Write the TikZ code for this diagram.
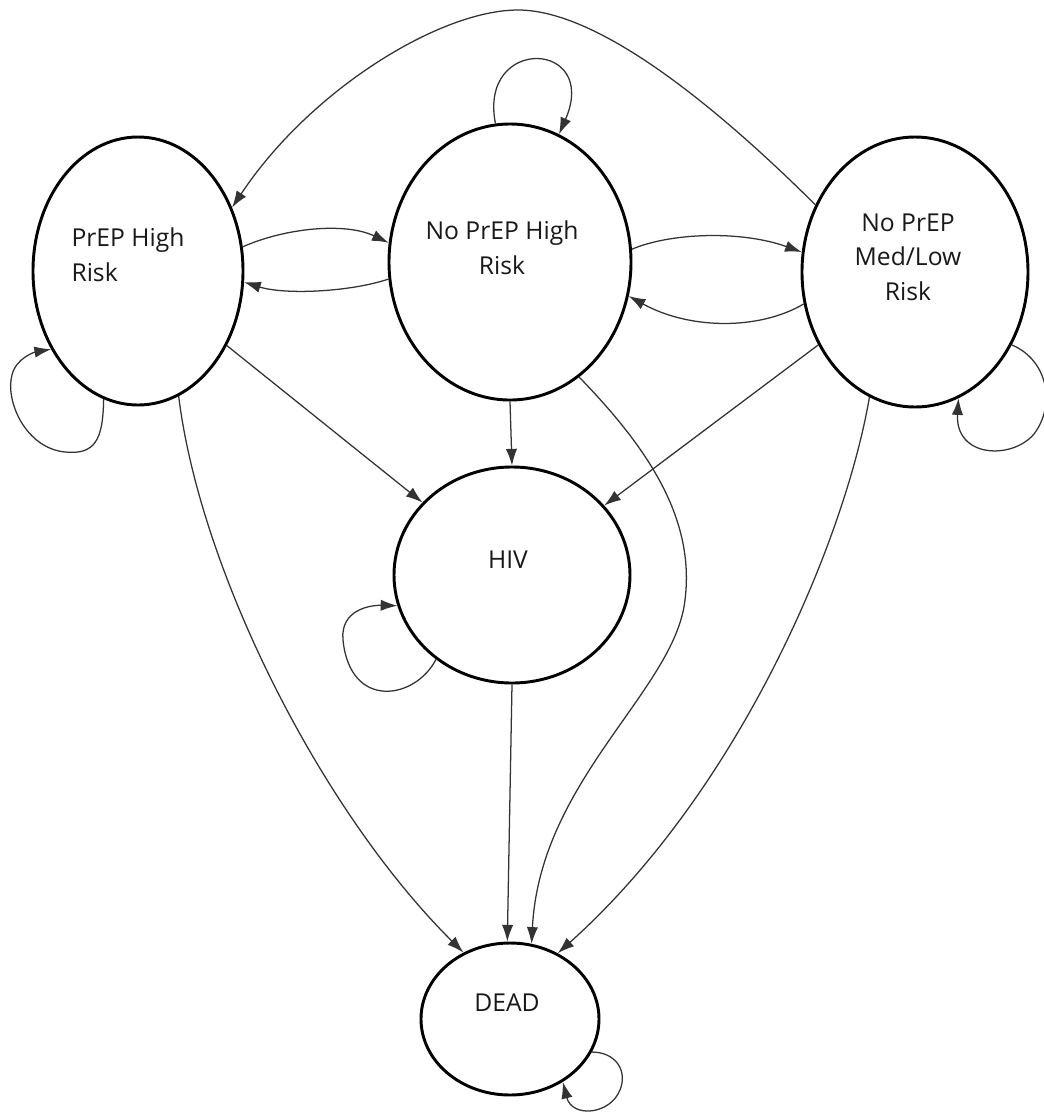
\documentclass[tikz,border=0pt]{standalone}
\usepackage{fontspec}
\setmainfont{Open Sans}
\usetikzlibrary{shapes.geometric,arrows.meta}
\begin{document}
\begin{tikzpicture}[x=0.75pt,y=-0.75pt,
  state/.style={draw=black, line width=2.2pt, ellipse, inner sep=0pt},
  lbl/.style={font=\fontsize{18.5}{26}\selectfont, text=black!90, inner sep=0pt},
  conn/.style={draw=black!80, line width=0.95pt, -{Latex[length=12.5pt,width=8.5pt]}},
]
\fill[white] (0,0) rectangle (1044,1115);
\useasboundingbox (0,0) rectangle (1044,1115);

% states
\node[state, minimum width=157.5pt, minimum height=201pt] (prep) at (138,271) {};
\node[state, minimum width=181.5pt, minimum height=207pt] (noprep) at (510,262) {};
\node[state, minimum width=169.5pt, minimum height=202.5pt] (medlow) at (915,272) {};
\node[state, minimum width=177pt, minimum height=162pt] (hiv) at (512,575) {};
\node[state, minimum width=133.5pt, minimum height=114pt] (dead) at (510,1019) {};

% labels
\node[lbl, align=left] (prep-t) at (128,255) {PrEP High\\Risk};
\node[lbl, align=center] (noprep-t) at (502,248) {No PrEP High\\Risk};
\node[lbl, align=center] (medlow-t) at (908,257) {No PrEP\\Med/Low\\Risk};
\node[lbl] (hiv-t) at (508,560) {HIV};
\node[lbl] (dead-t) at (507,1003) {DEAD};

% transitions between risk states
\draw[conn] (prep.13) .. controls (285,228) and (345,222) .. (noprep.171);
\draw[conn] (noprep.188) .. controls (350,292) and (285,295) .. (prep.-6.5);
\draw[conn] (noprep.6) .. controls (670,233) and (740,230) .. (medlow.170.6);
\draw[conn] (medlow.196) .. controls (760,330) and (690,330) .. (noprep.-16.5);
\coordinate (arctop) at (518,10);
\draw[conn] (medlow.146.7) .. controls (720,110) and (600,10) .. (arctop) .. controls (440,10) and (310,90) .. (prep.34.8);

% to HIV
\draw[conn] (prep.-40) -- (hiv.141.3);
\draw[conn] (noprep.-90) -- (hiv.90);
\draw[conn] (medlow.217.6) -- (hiv.37.2);

% to DEAD
\draw[conn] (hiv.-90) -- (dead.92);
\draw[conn] (prep.-72.4) .. controls (200,570) and (320,810) .. (dead.125);
\coordinate (nbend) at (685,600);
\draw[conn] (noprep.-59.3) .. controls (650,450) and (695,520) .. (nbend) .. controls (675,690) and (540,780) .. (dead.74.4);
\draw[conn] (medlow.250.3) .. controls (845,540) and (740,790) .. (dead.54);

% self loops
\draw[conn] (prep.-105.2) .. controls (103,440) and (95,455) .. (65,452) .. controls (25,448) and (5,400) .. (12,375) .. controls (16,358) and (35,352) .. (prep.-138.8);
\draw[conn] (noprep.96.7) .. controls (478,35) and (600,40) .. (noprep.69.7);
\draw[conn] (medlow.-37.7) .. controls (1048,360) and (1056,405) .. (1034,434) .. controls (1012,460) and (955,458) .. (medlow.-71.4);
\draw[conn] (hiv.228.2) .. controls (415,700) and (350,710) .. (343,640) .. controls (340,610) and (370,605) .. (hiv.195.1);
\draw[conn] (dead.-22.5) .. controls (615,1052) and (628,1070) .. (620,1090) .. controls (610,1115) and (572,1118) .. (dead.-50.9);
\end{tikzpicture}
\end{document}
